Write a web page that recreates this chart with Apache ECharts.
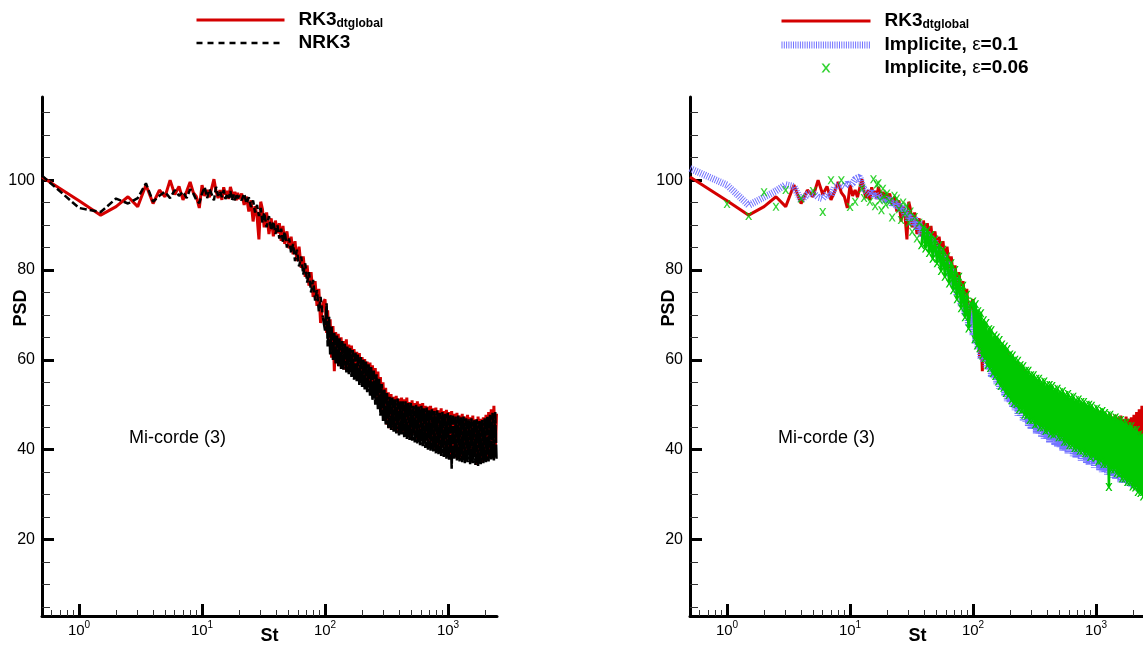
<!DOCTYPE html>
<html><head><meta charset="utf-8">
<script src="https://cdn.jsdelivr.net/npm/echarts@6/dist/echarts.min.js"></script>
<style>html,body{margin:0;padding:0;background:#fff}#c{width:1143px;height:646px}</style>
</head><body><div id="c"></div>
<script>
// ---------- data ----------
const stGrid = [
  0.5,1,1.5,2,2.5,3,3.5,4,4.5,5, 5.5,6,6.5,7,7.5,8,8.5,9,9.5,10,
  10.5,11,11.5,12,12.5,13,13.5,14,14.5,15, 15.5,16,16.5,17,17.5,18,18.5,19,19.5,20,
  21,22,23,24,25,26,27,28,29,30, 31,32,33.5,35,36.5,38,39.5,41,42.5,44,
  45.5,47,49,51,53,55,57,59,61.5,64, 66.5,69,71.5,74,77,80,83,86,89,92,96,
  100,103,105,108,110,113,116,119,122,125, 128,131,135,138,141,145,149,152,156,160,
  164,168,172,177,181,185,190,195,200,205, 210,215,220,226,232,237,243,249,256,262,
  269,275,282,289,296,304,311,319,327,335, 344,352,361,370,379,389,399,409,419,429,
  440,451,462,474,486,498,510,523,536,550, 563,577,592,607,622,637,653,670,686,703,
  721,739,758,776,796,816,836,857,879,900, 923,946,970,994,1019,1044,1070,1097,1125,1153,
  1181,1211,1241,1272,1304,1337,1370,1404,1440,1476, 1512,1550,1589,1629,1669,1711,1754,1798,1843,1889,
  1936,1984,2034,2085,2137,2190,2245,2301,2359,2418, 2478
];
const rk3Global = [
  100.7,95.4,92.2,94.1,96.3,94.1,98.9,94.8,97.8,96.3, 100.0,96.8,98.6,95.6,97.5,99.6,97.2,96.3,93.8,98.9,
  96.5,97.8,96.2,98.3,100.2,97.5,96.0,97.8,95.6,98.4, 96.8,97.6,95.8,98.5,97.2,96.0,97.4,95.5,97.2,95.8,
  97.0,94.5,96.3,93.0,95.5,90.8,94.2,92.0,86.8,95.2, 93.5,89.5,92.8,88.0,91.5,87.5,91.0,88.2,90.4,86.5,
  89.8,85.8,88.6,84.8,87.4,83.5,86.4,82.0,85.2,80.5, 83.0,78.5,81.0,76.5,79.5,74.0,77.5,72.0,75.8,68.2,72.5,
  73.5,66.0,71.0,63.5,69.0,60.5,67.5,57.5,66.2,59.8, 65.8,58.6,65.0,59.2,64.2,57.8,64.6,58.2,63.4,57.4,
  63.2,56.6,62.4,57.2,61.8,55.8,61.5,55.2,60.6,54.6, 60.2,53.8,59.6,54.2,59.4,52.6,58.8,51.8,58.2,50.6,
  57.4,49.5,56.2,48.0,55.0,46.8,53.8,45.6,52.8,44.8, 52.4,44.6,51.8,45.2,52.0,43.8,51.4,44.2,51.6,43.6,
  51.2,43.2,51.6,44.2,50.6,42.6,51.0,43.4,50.4,42.4, 50.8,42.2,50.2,43.0,50.4,41.4,49.8,42.0,49.6,40.8,
  49.8,41.6,49.2,40.2,49.4,41.0,48.8,39.6,49.2,40.4, 48.6,38.8,48.9,40.2,48.4,38.6,48.6,39.4,48.0,38.2,
  48.2,39.6,47.6,37.8,48.0,38.8,47.4,37.6,47.8,39.0, 47.2,37.4,47.6,38.6,46.8,36.6,47.4,38.4,46.9,37.2,
  47.2,38.2,47.8,37.6,48.4,39.0,49.0,38.4,49.8,38.8, 48.0
];
const nrk3 = [
  101.0,93.8,92.9,95.9,94.8,96.0,99.3,95.2,96.5,97.4, 96.0,97.8,96.5,97.4,96.0,98.0,97.0,95.5,94.9,97.0,
  98.5,96.0,98.0,96.8,95.5,98.5,96.5,97.5,96.2,97.8, 95.8,97.0,96.0,97.6,95.5,96.8,95.5,97.0,96.0,96.5,
  95.5,97.0,94.8,96.2,94.0,95.5,92.8,94.5,92.0,93.8, 90.5,92.8,89.5,92.0,88.8,90.8,88.0,90.0,87.0,89.2,
  86.2,88.5,85.0,87.0,83.8,85.8,82.0,84.5,80.8,83.0, 79.0,81.5,77.2,79.5,75.0,77.8,73.2,75.5,70.8,74.0,69.5,
  66.5,72.6,63.0,69.6,61.2,67.4,60.0,66.0,59.2,65.4, 58.6,64.8,58.0,64.2,57.8,63.6,57.2,63.0,56.8,62.6,
  56.2,62.2,55.6,61.6,55.2,61.2,54.4,60.6,54.0,60.0, 53.4,59.6,52.8,59.0,52.0,58.4,51.0,57.6,50.0,56.8,
  49.0,55.8,47.6,54.6,46.4,53.4,45.6,52.6,44.8,51.8, 44.4,51.6,44.0,51.2,43.6,51.4,43.2,50.8,43.4,50.8,
  42.8,50.8,42.4,50.4,42.2,50.4,42.0,49.8,41.6,50.0, 41.4,49.6,41.0,49.8,40.8,49.2,40.4,49.4,40.0,48.8,
  39.8,49.0,39.6,48.6,39.2,48.8,39.0,48.2,38.6,48.4, 38.4,48.0,38.0,48.2,37.8,47.8,35.8,47.6,38.0,47.4,
  37.6,47.6,37.4,47.2,37.2,47.4,37.0,47.0,37.2,46.8, 36.8,47.0,37.0,46.6,36.6,46.8,36.4,46.4,36.8,46.6,
  37.0,47.0,37.2,47.4,37.4,47.8,37.8,48.2,37.6,48.4, 38.0
];
const implicit01 = [
  102.6,98.9,94.4,96.2,97.6,99.0,98.6,95.5,96.8,97.2, 96.2,95.9,97.0,96.5,98.5,98.8,99.0,98.6,99.2,98.8,
  99.3,100.2,100.5,100.7,99.0,98.0,97.5,97.8,96.8,97.5, 96.5,97.2,96.0,96.8,96.2,95.8,96.5,95.2,96.0,95.0,
  96.0,94.5,95.5,93.8,95.0,93.0,94.2,92.0,93.5,91.0, 92.5,89.8,91.8,88.8,90.8,87.5,89.5,86.5,88.5,85.5,
  87.5,84.5,86.5,83.0,85.0,81.5,83.5,80.0,82.0,78.5, 80.5,76.5,78.5,74.5,76.5,72.0,74.5,70.0,72.5,67.5,70.5,
  65.5,71.2,63.6,69.8,62.4,68.2,60.2,67.4,59.6,66.0, 58.2,65.6,57.8,64.4,56.2,64.0,55.9,63.0,54.6,62.8,
  53.6,62.2,53.2,61.0,52.0,60.8,50.8,59.6,50.6,59.4, 49.4,58.4,48.8,58.2,47.6,57.6,47.4,56.6,46.4,56.4,
  46.2,55.6,45.2,55.4,44.6,54.8,44.6,54.0,43.6,53.8, 43.6,53.0,42.8,53.0,42.4,52.2,42.4,51.8,41.6,51.8,
  41.8,51.0,41.0,51.0,40.6,50.4,40.6,50.4,39.8,49.6, 40.0,49.6,39.2,49.0,39.2,48.6,38.6,48.8,38.2,48.0,
  38.4,47.8,37.6,47.8,37.8,47.2,37.0,47.2,36.6,46.6, 36.8,46.6,36.0,46.0,36.0,45.6,35.4,45.8,35.0,45.0,
  35.2,44.8,34.4,44.8,34.4,44.2,33.8,44.2,33.4,43.6, 33.6,43.4,32.8,43.4,32.6,42.6,32.6,42.8,32.0,42.0,
  31.8,42.2,31.4,41.4,31.4,41.4,30.6,41.0,30.6,40.2, 29.8
];
const implicit006 = [
  null,94.7,92.0,97.3,94.1,97.8,null,95.9,null,97.6, null,92.9,null,100.0,null,null,100.0,null,null,94.0,
  null,95.2,null,null,98.1,96.0,null,null,95.2,null, 100.2,94.2,99.0,99.3,95.5,93.3,98.1,96.5,94.6,97.0,
  95.2,91.7,96.5,95.9,93.5,91.1,95.0,92.6,94.2,90.5, 93.0,88.5,91.8,87.0,90.5,85.5,89.5,84.8,88.8,83.8,
  87.8,82.5,86.8,81.5,85.5,79.8,84.5,78.5,83.0,77.0, 81.5,75.5,80.0,73.5,78.5,71.5,76.5,69.5,74.5,67.0,72.5,
  73.0,64.6,72.4,63.2,70.8,62.6,70.4,61.0,68.8,60.4, 68.2,58.8,66.8,58.2,66.6,57.0,65.4,56.4,65.0,55.2,
  64.4,54.2,63.4,53.8,63.0,52.6,62.4,52.2,61.2,51.0, 61.0,50.4,60.0,50.2,59.8,49.0,58.8,48.8,58.6,47.8,
  57.6,47.6,57.6,46.6,56.6,46.6,56.6,45.6,55.8,45.8, 55.8,45.0,55.0,45.0,55.2,44.2,54.4,44.4,54.4,43.6,
  54.2,43.4,53.4,43.6,53.6,42.8,52.8,42.8,53.0,41.8, 52.2,41.8,52.4,41.0,51.6,41.0,51.8,40.4,51.0,40.4,
  51.2,39.8,50.6,39.8,50.6,39.2,50.0,39.2,50.0,38.4, 49.8,38.6,49.0,38.2,49.2,37.4,48.4,37.6,48.6,36.8,
  48.2,36.8,47.6,31.7,47.8,35.6,47.0,35.6,47.2,34.8, 46.6,34.6,46.6,33.6,46.0,33.6,46.0,32.8,45.2,32.8,
  45.2,31.8,44.4,31.6,44.4,30.6,43.4,30.4,43.2,29.6, 42.6
];
const xMajorTicks = [1, 10, 100, 1000];
const xTickExponents = ['0', '1', '2', '3'];
const xMinorTicks = [0.6,0.7,0.8,0.9, 2,3,4,5,6,7,8,9, 20,30,40,50,60,70,80,90, 200,300,400,500,600,700,800,900, 2000];
const yMajorTicks = [20, 40, 60, 80, 100];
const yMinorTicks = [5,10,15, 25,30,35, 45,50,55, 65,70,75, 85,90,95, 105,110,115];
const annotationText = 'Mi-corde (3)';

// ---------- chart ----------
const FONT = "'Liberation Sans', Arial, Helvetica, sans-serif";
const RED = '#d40000', BLUE = '#7373ff', GREEN = '#00c800';
const X_PATH = 'path://M0,0L2.2,0L5,3.6L7.8,0L10,0L6.2,5L10,10L7.8,10L5,6.4L2.2,10L0,10L3.8,5Z';
const DENSE_FROM = 96;   // above this St the dashed NRK3 curve merges into a solid band

function pairs(vals, keep) {
  return stGrid.map((s, i) => [s, vals[i]]).filter(p => p[1] !== null && (!keep || keep(p[0])));
}

function mkX(gridIndex, minor) {
  return {
    type: 'log', logBase: 10, gridIndex, min: 0.5, max: 2500, position: 'bottom',
    axisLine: { show: !minor, onZero: false, lineStyle: { color: '#000', width: 3 } },
    axisTick: { show: true, inside: true, length: minor ? 6 : 12, customValues: minor ? xMinorTicks : xMajorTicks,
      lineStyle: { color: minor ? '#333' : '#000', width: minor ? 1 : 3 } },
    axisLabel: { show: !minor, customValues: xMajorTicks, margin: 4,
      formatter: v => '{b|10}{s|' + xTickExponents[xMajorTicks.indexOf(Math.round(v))] + '}',
      rich: {
        b: { fontFamily: FONT, fontSize: 15, color: '#000', lineHeight: 22, verticalAlign: 'middle' },
        s: { fontFamily: FONT, fontSize: 10, color: '#000', lineHeight: 10, verticalAlign: 'top' }
      } },
    splitLine: { show: false },
    name: minor ? '' : 'St', nameLocation: 'middle', nameGap: 11, nameMoveOverlap: false,
    nameTextStyle: { fontFamily: FONT, fontWeight: 'bold', fontSize: 18, color: '#000' }
  };
}
function mkY(gridIndex, minor) {
  return {
    type: 'value', gridIndex, min: 3, max: 118.5, position: 'left',
    axisLine: { show: !minor, onZero: false, lineStyle: { color: '#000', width: 3 } },
    axisTick: { show: true, inside: true, length: minor ? 8 : 12, customValues: minor ? yMinorTicks : yMajorTicks,
      lineStyle: { color: minor ? '#333' : '#000', width: minor ? 1 : 3 } },
    axisLabel: { show: !minor, customValues: yMajorTicks, margin: 7, color: '#000', fontSize: 16, fontFamily: FONT },
    splitLine: { show: false },
    name: minor ? '' : 'PSD', nameLocation: 'middle', nameGap: 12, nameRotate: 90, nameMoveOverlap: false,
    nameTextStyle: { fontFamily: FONT, fontWeight: 'bold', fontSize: 18, color: '#000', padding: [0, 0, 0, 97] }
  };
}

const legendRich = {
  b: { fontFamily: FONT, fontWeight: 'bold', fontSize: 19, color: '#000', lineHeight: 20, verticalAlign: 'top', padding: [0, 0, 0, 9] },
  s: { fontFamily: FONT, fontWeight: 'bold', fontSize: 12, color: '#000', lineHeight: 12, verticalAlign: 'bottom', padding: [12, 0, 0, 0] },
  e: { fontFamily: FONT, fontSize: 19, color: '#000', lineHeight: 20, verticalAlign: 'top' },
  c: { fontFamily: FONT, fontWeight: 'bold', fontSize: 19, color: '#000', lineHeight: 20, verticalAlign: 'top' }
};
function legendFormatter(name) {
  if (name === 'RK3_dtglobal') return '{b|RK3}{s|dtglobal}';
  if (name.indexOf('ε') >= 0) {
    const parts = name.split('ε');
    return '{b|' + parts[0] + '}{e|ε}{c|' + parts[1] + '}';
  }
  return '{b|' + name + '}';
}
const hidden = { opacity: 0 };

const option = {
  animation: false,
  backgroundColor: '#fff',
  grid: [
    { left: 42, top: 97, width: 455, height: 519, containLabel: false, outerBoundsMode: 'none' },
    { left: 690, top: 97, width: 455, height: 519, containLabel: false, outerBoundsMode: 'none' }
  ],
  xAxis: [mkX(0, false), mkX(1, false), mkX(0, true), mkX(1, true)],
  yAxis: [mkY(0, false), mkY(1, false), mkY(0, true), mkY(1, true)],
  legend: [
    { orient: 'vertical', left: 195, top: 6, padding: 0, itemWidth: 88, itemHeight: 9, itemGap: 3, selectedMode: false,
      formatter: legendFormatter, textStyle: { rich: legendRich },
      data: [
        { name: 'RK3_dtglobal', itemStyle: hidden, lineStyle: { width: 3 } },
        { name: 'NRK3', itemStyle: hidden, lineStyle: { width: 2.5, type: [6, 5] } }
      ] },
    { orient: 'vertical', left: 778, top: 7, padding: 0, itemWidth: 89, itemHeight: 9, itemGap: 4, selectedMode: false,
      formatter: legendFormatter, textStyle: { rich: legendRich },
      data: [
        { name: 'RK3_dtglobal', itemStyle: hidden, lineStyle: { width: 3 } },
        { name: 'Implicite, ε=0.1', itemStyle: hidden, lineStyle: { width: 7 } },
        { name: 'Implicite, ε=0.06' }
      ] }
  ],
  graphic: [
    { type: 'text', left: 129, top: 429, style: { text: annotationText, font: '18px ' + FONT, fill: '#000' } },
    { type: 'text', left: 778, top: 429, style: { text: annotationText, font: '18px ' + FONT, fill: '#000' } }
  ],
  series: [
    { type: 'line', name: 'RK3_dtglobal', xAxisIndex: 0, yAxisIndex: 0, data: pairs(rk3Global), symbol: 'none',
      lineStyle: { color: RED, width: 3 }, itemStyle: { color: RED }, z: 2 },
    { type: 'line', name: 'NRK3', xAxisIndex: 0, yAxisIndex: 0, data: pairs(nrk3, s => s <= DENSE_FROM), symbol: 'none',
      lineStyle: { color: '#000', width: 2.5, type: [7, 3] }, itemStyle: { color: '#000' }, z: 3 },
    { type: 'line', name: 'NRK3', xAxisIndex: 0, yAxisIndex: 0, data: pairs(nrk3, s => s >= DENSE_FROM), symbol: 'none',
      lineStyle: { color: '#000', width: 2.5, type: [18, 1.5] }, itemStyle: { color: '#000' }, z: 3 },
    { type: 'line', name: 'RK3_dtglobal', xAxisIndex: 1, yAxisIndex: 1, data: pairs(rk3Global), symbol: 'none',
      lineStyle: { color: RED, width: 3 }, itemStyle: { color: RED }, z: 2 },
    { type: 'line', name: 'Implicite, ε=0.1', xAxisIndex: 1, yAxisIndex: 1, data: pairs(implicit01), symbol: 'none',
      lineStyle: { color: BLUE, width: 7, type: [1, 1.3] }, itemStyle: { color: BLUE }, z: 3 },
    { type: 'scatter', name: 'Implicite, ε=0.06', xAxisIndex: 1, yAxisIndex: 1, data: pairs(implicit006, s => s < 37),
      symbol: X_PATH, symbolSize: [7, 8], itemStyle: { color: GREEN }, z: 4 },
    { type: 'line', name: 'Implicite, ε=0.06', xAxisIndex: 1, yAxisIndex: 1, data: pairs(implicit006, s => s > 37),
      symbol: X_PATH, symbolSize: [7, 8], showSymbol: true, lineStyle: { color: GREEN, width: 2.5 }, itemStyle: { color: GREEN }, z: 4 }
  ]
};
const chart = echarts.init(document.getElementById('c'), null, { renderer: 'canvas' });
chart.setOption(option);
</script>
</body></html>
